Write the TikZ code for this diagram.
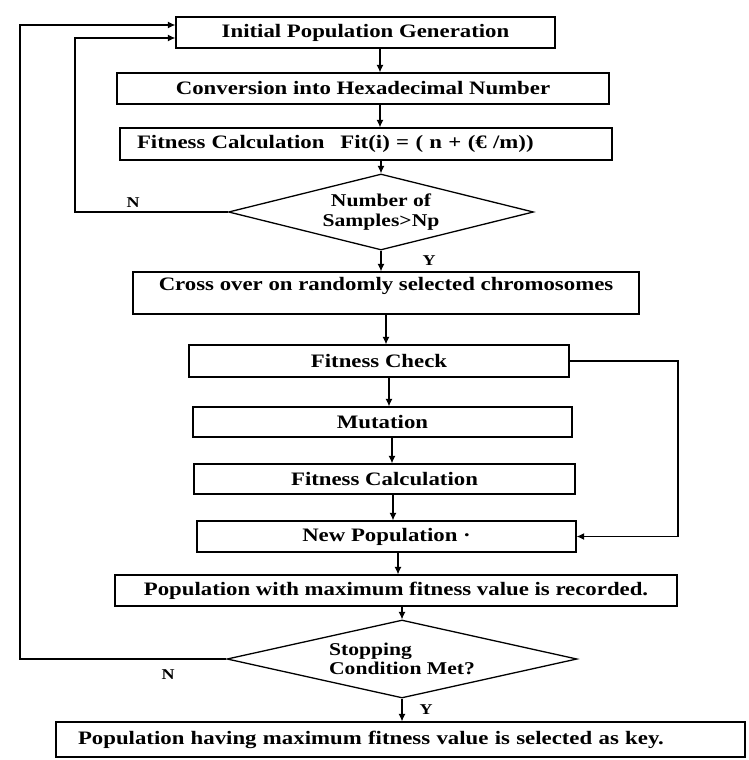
\documentclass[tikz,border=0pt]{standalone}
\usepackage{fontspec}
\setmainfont[FakeStretch=1.2]{Liberation Serif}
\usetikzlibrary{arrows.meta,shapes.geometric,calc}
\newcommand\txtfnt{\bfseries\fontsize{19}{17}\selectfont}
\newcommand\diafnt{\bfseries\fontsize{18}{19.5}\selectfont}
\newcommand\lblfnt{\bfseries\fontsize{15}{15}\selectfont}
\begin{document}
\begin{tikzpicture}[x=1pt,y=-1pt,
  box/.style={draw, line width=1.3pt, rectangle, inner sep=0pt, font=\txtfnt},
  dia/.style={draw, line width=1.3pt, diamond, inner sep=0pt, font=\diafnt},
  txt/.style={inner sep=0pt, font=\txtfnt},
  arr/.style={line width=1.1pt, -{Latex[length=7.5pt,width=7pt]}},
  lbl/.style={inner sep=0pt, font=\lblfnt}]
\useasboundingbox (0,0) rectangle (748,760);

% boxes
\node[box, minimum width=379pt, minimum height=31pt] (init) at (365.5,32.5) {Initial Population Generation};
\node[box, minimum width=492pt, minimum height=31pt] (conv) at (363,88.5) {Conversion into Hexadecimal Number};
\node[box, minimum width=492pt, minimum height=32pt, text width=458pt, align=left, inner xsep=17pt] (fit1) at (366,144) {Fitness Calculation\hspace{16pt}Fit(i) = ( n + (€ /m))};
\node[dia, shape aspect=4, minimum width=305pt, minimum height=76pt, align=center] (d1) at (381,212) {Number of\\Samples>Np};
\node[box, minimum width=506pt, minimum height=42pt] (cross) at (386,293) {};
\node[txt] (crosst) at (386,286) {Cross over on randomly selected chromosomes};
\node[box, minimum width=380pt, minimum height=32pt] (fchk) at (379,361) {Fitness Check};
\node[box, minimum width=379pt, minimum height=30pt] (mut) at (382.5,422) {Mutation};
\node[box, minimum width=381pt, minimum height=30pt] (fit2) at (384.5,479) {Fitness Calculation};
\node[box, minimum width=379pt, minimum height=31pt] (newp) at (386.5,536.5) {New Population ·};
\node[box, minimum width=562pt, minimum height=31pt] (popw) at (396,590.5) {Population with maximum fitness value is recorded.};
\node[dia, shape aspect=4.5, minimum width=350pt, minimum height=78pt, align=left] (d2) at (402,659) {Stopping\\Condition Met?};
\node[box, minimum width=689pt, minimum height=35pt, text width=645pt, align=left, inner xsep=22pt] (fin) at (400.5,739.5) {Population having maximum fitness value is selected as key.};

% labels
\node[lbl] (n1) at (133,203) {N};
\node[lbl] (y1) at (429,261) {Y};
\node[lbl] (n2) at (168,675) {N};
\node[lbl] (y2) at (426,710) {Y};

% column coordinates
\coordinate (cA) at (380,0);
\coordinate (cB) at (386,0);
\coordinate (cC) at (389,0);
\coordinate (cD) at (392,0);
\coordinate (cE) at (393,0);
\coordinate (cF) at (398,0);
\coordinate (xin) at (75,0);
\coordinate (xout) at (20,0);
\coordinate (xr) at (678,0);
\coordinate (inO) at ([yshift=7.5pt]init.west);
\coordinate (inI) at ([yshift=-5.5pt]init.west);

% main flow
\draw[arr] (init.south -| cA) -- (conv.north -| cA);
\draw[arr] (conv.south -| cA) -- (fit1.north -| cA);
\draw[arr] (fit1.south -| d1.north) -- (d1.north);
\draw[arr] (d1.south) -- (d1.south |- cross.north);
\draw[arr] (cross.south -| cB) -- (fchk.north -| cB);
\draw[arr] (fchk.south -| cC) -- (mut.north -| cC);
\draw[arr] (mut.south -| cD) -- (fit2.north -| cD);
\draw[arr] (fit2.south -| cE) -- (newp.north -| cE);
\draw[arr] (newp.south -| cF) -- (popw.north -| cF);
\draw[arr] (popw.south -| d2.north) -- (d2.north);
\draw[arr] (d2.south) -- (d2.south |- fin.north);

% loops
\draw[arr] (d1.west) -- (d1.west -| xin) -- (xin |- inI) -- (inI);
\draw[arr] (d2.west) -- (d2.west -| xout) -- (xout |- inO) -- (inO);
\draw[arr] (fchk.east) -- (fchk.east -| xr) -- (xr |- newp.east) -- (newp.east);
\end{tikzpicture}
\end{document}
